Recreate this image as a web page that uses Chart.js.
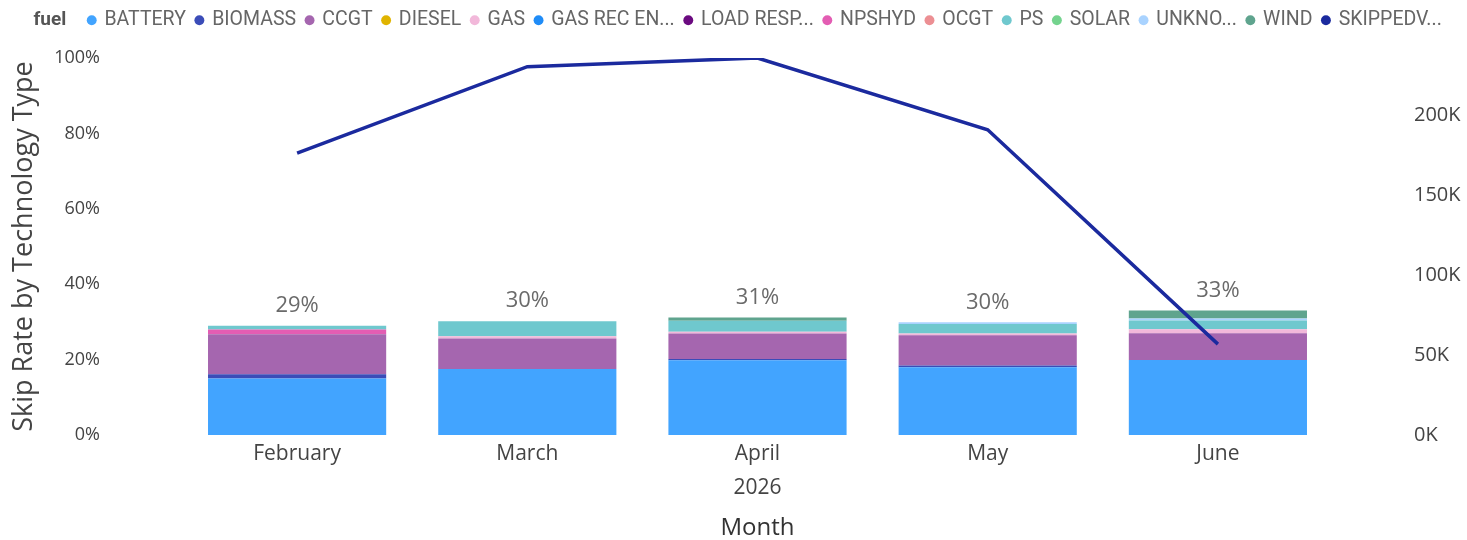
<!DOCTYPE html>
<html><head><meta charset="utf-8">
<script src="https://cdn.jsdelivr.net/npm/chart.js@4/dist/chart.umd.min.js"></script>
<style>html,body{margin:0;padding:0;background:#fff}#wrap{width:1467px;height:540px;position:relative}</style>
</head><body><div id="wrap"><canvas id="c"></canvas></div>
<script>
// ---- data ----
const months = ['February', 'March', 'April', 'May', 'June'];
const yearLabel = '2026';
const battery   = [15.0, 17.5, 19.8, 18.0, 19.9];
const biomass   = [1.1, 0, 0.35, 0.45, 0];
const ccgt      = [10.6, 8.1, 6.8, 8.0, 7.1];
const diesel    = [0, 0, 0, 0, 0];
const gas       = [0, 0.6, 0.45, 0.5, 1.05];
const gasRecEn  = [0, 0, 0, 0, 0];
const loadResp  = [0, 0, 0, 0, 0];
const npshyd    = [1.3, 0, 0, 0, 0];
const ocgt      = [0, 0, 0, 0, 0];
const ps        = [1.0, 4.0, 2.9, 2.5, 2.3];
const solar     = [0, 0, 0, 0, 0];
const unknown   = [0, 0, 0, 0.45, 0.55];
const wind      = [0, 0, 0.9, 0, 2.1];
const skippedVolume = [176400, 230600, 236000, 191100, 56900];
const leftTicks  = [0, 20, 40, 60, 80, 100];
const rightTicks = [0, 50000, 100000, 150000, 200000];
const fuelNames = ['BATTERY', 'BIOMASS', 'CCGT', 'DIESEL', 'GAS', 'GAS REC EN...', 'LOAD RESP...', 'NPSHYD', 'OCGT', 'PS', 'SOLAR', 'UNKNO...', 'WIND'];
const lineName = 'SKIPPEDV...';
const legendTitle = 'fuel';
const leftTitle = 'Skip Rate by Technology Type';
const bottomTitle = 'Month';

// ---- styles ----
const fuelColors = ['#42A4FF', '#3B4CB8', '#A566AF', '#E0B400', '#F2B8DA', '#1F8CF7', '#6B0A80', '#E35DB3', '#EC8F93', '#6FC8CE', '#74D38E', '#A9D3FF', '#5FA48E'];
const lineColor = '#1B2A9E';
const FONT = "'Open Sans', 'Noto Sans', sans-serif";
const LFONT = "Roboto, 'Open Sans', sans-serif";

const fuelSeries = [battery, biomass, ccgt, diesel, gas, gasRecEn, loadResp, npshyd, ocgt, ps, solar, unknown, wind];
const centerIdx = Math.floor(months.length / 2);
const xLabels = months.map((m, i) => i === centerIdx ? [m, yearLabel] : m);

const datasets = fuelSeries.map((d, k) => ({
  type: 'bar', label: fuelNames[k], data: d, backgroundColor: fuelColors[k],
  borderWidth: 0, yAxisID: 'y', order: 1, barPercentage: 0.774, categoryPercentage: 1.0
}));
datasets.push({
  type: 'line', label: lineName, data: skippedVolume, borderColor: lineColor, backgroundColor: lineColor,
  borderWidth: 3.5, pointRadius: 0, pointHoverRadius: 0, tension: 0, yAxisID: 'y1', order: 0
});

const legendHeightPlugin = {
  id: 'legendHeight',
  beforeLayout(chart) {
    const lg = chart.legend;
    if (lg && !lg.__patched) {
      const orig = lg.fit;
      lg.fit = function () { orig.call(this); this.height = 58; };
      lg.__patched = true;
    }
  }
};

const totalsPlugin = {
  id: 'totals',
  afterDatasetsDraw(chart) {
    const { ctx, scales: { x, y } } = chart;
    ctx.save();
    ctx.font = "22px " + FONT;
    ctx.fillStyle = '#6a6a6a';
    ctx.textAlign = 'center';
    ctx.textBaseline = 'middle';
    months.forEach((m, i) => {
      const sum = fuelSeries.reduce((s, d) => s + d[i], 0);
      ctx.fillText(Math.round(sum) + '%', x.getPixelForValue(i), y.getPixelForValue(sum) - 20);
    });
    ctx.restore();
  }
};

const fuelTitlePlugin = {
  id: 'fuelTitle',
  afterDraw(chart) {
    const hb = chart.legend && chart.legend.legendHitBoxes && chart.legend.legendHitBoxes[0];
    if (!hb) return;
    const ctx = chart.ctx;
    ctx.save();
    ctx.font = "bold 19px " + LFONT;
    ctx.fillStyle = '#555';
    ctx.textAlign = 'left';
    ctx.textBaseline = 'middle';
    ctx.fillText(legendTitle, hb.left + 23, hb.top + hb.height / 2);
    ctx.restore();
  }
};

function fixVPad(s) { s.paddingTop = 11; s.paddingBottom = 11; }

new Chart(document.getElementById('c'), {
  data: { labels: xLabels, datasets },
  options: {
    responsive: true, maintainAspectRatio: false, animation: false, devicePixelRatio: 1,
    layout: { padding: 0 },
    plugins: {
      tooltip: { enabled: false },
      legend: {
        position: 'top', align: 'start',
        labels: {
          usePointStyle: true, pointStyle: 'circle', boxWidth: 6, boxHeight: 7,
          padding: 10.5, color: '#666', font: { family: LFONT, size: 19.5 },
          sort: (a, b) => a.datasetIndex - b.datasetIndex,
          generateLabels(chart) {
            const items = Chart.defaults.plugins.legend.labels.generateLabels(chart);
            items.forEach(it => { it.lineWidth = 0; it.strokeStyle = 'rgba(0,0,0,0)'; it.pointStyle = 'circle'; });
            items.unshift({ text: legendTitle + '    ', fillStyle: 'rgba(0,0,0,0)', strokeStyle: 'rgba(0,0,0,0)', lineWidth: 0,
              pointStyle: 'circle', fontColor: 'rgba(0,0,0,0)', hidden: false, datasetIndex: -1 });
            return items;
          }
        },
        onClick: () => {}
      }
    },
    scales: {
      x: {
        stacked: true,
        grid: { display: false, drawTicks: false }, border: { display: false },
        ticks: { color: '#444', padding: 2, font: { family: FONT, size: 21, lineHeight: 1.62 }, maxRotation: 0 },
        title: { display: true, text: bottomTitle, color: '#333', font: { family: FONT, size: 24, lineHeight: 1.0 }, padding: { top: 0, bottom: 0 } },
        afterFit(s) { s.height = 105; }
      },
      y: {
        stacked: true, position: 'left', min: 0, max: 100,
        grid: { display: false, drawTicks: false }, border: { display: false },
        afterBuildTicks(s) { s.ticks = leftTicks.map(v => ({ value: v })); },
        ticks: { color: '#444', padding: 82, font: { family: FONT, size: 18 }, callback: v => v + '%' },
        title: { display: true, text: leftTitle, color: '#444', font: { family: FONT, size: 27, lineHeight: 1.0 }, padding: { top: 11, bottom: 0 } },
        afterFit(s) { s.width = 182; fixVPad(s); }
      },
      y1: {
        position: 'right', min: 0, max: Math.max(...skippedVolume),
        grid: { display: false, drawTicks: false }, border: { display: false },
        afterBuildTicks(s) { s.ticks = rightTicks.map(v => ({ value: v })); },
        ticks: { color: '#444', padding: 81, font: { family: FONT, size: 20 }, callback: v => (v / 1000) + 'K' },
        afterFit(s) { s.width = 134; fixVPad(s); }
      }
    }
  },
  plugins: [legendHeightPlugin, totalsPlugin, fuelTitlePlugin]
});
</script>
</body></html>
